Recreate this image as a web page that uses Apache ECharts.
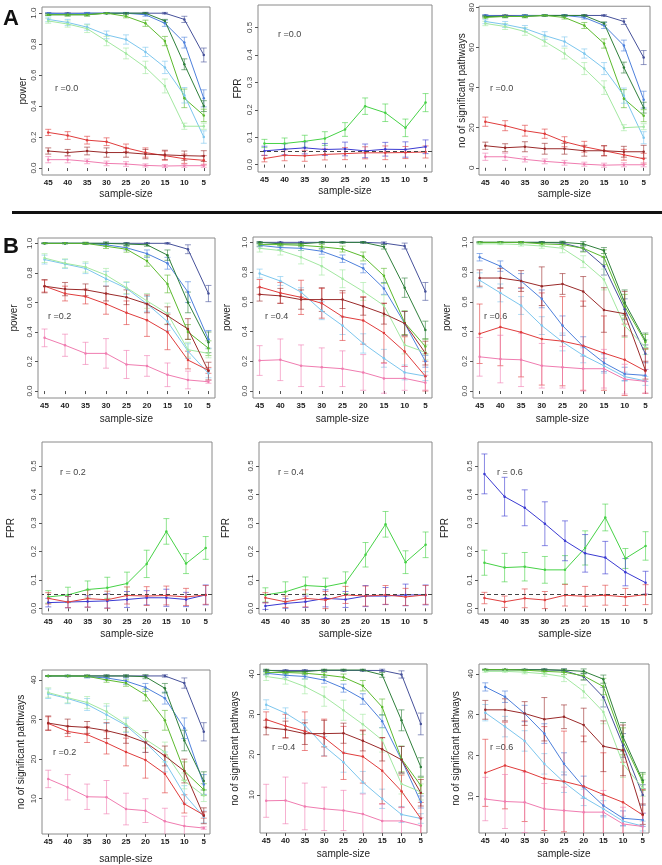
<!DOCTYPE html>
<html><head><meta charset="utf-8">
<script src="https://cdn.jsdelivr.net/npm/echarts@6/dist/echarts.min.js"></script>
<style>html,body{margin:0;padding:0;background:#fff}#c{width:662px;height:865px}</style>
</head><body><div id="c"></div>
<script>
// ---------- shared axes / labels ----------
const sampleSizes = [45,40,35,30,25,20,15,10,5];
const xTickLabels = ['45','40','35','30','25','20','15','10','5'];
const methodNames = ['navy','blue','darkgreen','green','lightblue','palegreen','red','darkred','pink'];
const fprNames = ['green','blue','red'];
const powerTicks = [0,0.2,0.4,0.6,0.8,1.0];
const powerTickLabels = ['0.0','0.2','0.4','0.6','0.8','1.0'];
const fprTicks = [0,0.1,0.2,0.3,0.4,0.5];
const fprTickLabels = ['0.0','0.1','0.2','0.3','0.4','0.5'];
const pathTicksA = [0,20,40,60,80];
const pathTickLabelsA = ['0','20','40','60','80'];
const pathTicksB = [10,20,30,40];
const pathTickLabelsB = ['10','20','30','40'];
const fprLevel = 0.05;
const rLabels = ['r =0.0','r =0.0','r =0.0','r =0.2','r =0.4','r =0.6','r = 0.2','r = 0.4','r = 0.6','r =0.2','r =0.4','r =0.6'];

// ---------- A: r = 0.0 ----------
const A_power = [
 [1.0,1.0,1.0,1.0,1.0,1.0,1.0,0.96,0.73],
 [1.0,0.995,1.0,1.0,1.0,0.99,0.935,0.81,0.45],
 [0.99,0.99,0.99,1.0,1.0,1.0,0.95,0.67,0.40],
 [0.99,0.99,0.99,1.0,0.98,0.935,0.82,0.45,0.34],
 [0.96,0.94,0.91,0.86,0.83,0.75,0.65,0.47,0.20],
 [0.95,0.93,0.90,0.82,0.74,0.65,0.53,0.27,0.27],
 [0.23,0.21,0.18,0.17,0.13,0.10,0.08,0.06,0.05],
 [0.11,0.10,0.11,0.10,0.10,0.09,0.085,0.08,0.077],
 [0.054,0.054,0.043,0.03,0.026,0.017,0.013,0.015,0.015]
];
const A_power_err = [
 [0.003,0.003,0.003,0.003,0.003,0.005,0.005,0.02,0.045],
 [0.003,0.005,0.005,0.003,0.005,0.01,0.02,0.035,0.055],
 [0.005,0.008,0.008,0.003,0.003,0.005,0.01,0.035,0.035],
 [0.005,0.008,0.008,0.003,0.01,0.02,0.03,0.06,0.04],
 [0.015,0.02,0.02,0.025,0.03,0.03,0.04,0.05,0.04],
 [0.015,0.02,0.025,0.03,0.035,0.04,0.045,0.02,0.02],
 [0.02,0.025,0.025,0.025,0.025,0.03,0.03,0.03,0.03],
 [0.02,0.02,0.025,0.03,0.03,0.03,0.03,0.03,0.035],
 [0.02,0.02,0.015,0.015,0.015,0.01,0.01,0.01,0.01]
];
const A_fpr = [
 [0.077,0.077,0.085,0.095,0.128,0.213,0.189,0.134,0.226],
 [0.05,0.056,0.061,0.055,0.057,0.05,0.056,0.055,0.065],
 [0.022,0.034,0.032,0.037,0.04,0.043,0.043,0.044,0.046]
];
const A_fpr_err = [
 [0.015,0.02,0.022,0.025,0.025,0.03,0.032,0.032,0.033],
 [0.017,0.02,0.022,0.022,0.025,0.025,0.025,0.028,0.025],
 [0.012,0.02,0.02,0.02,0.022,0.022,0.025,0.022,0.022]
];
const A_path = [
 [76,76,76,76,76,76,76,73,55],
 [76,75.5,76,76,76,75,71,61,34],
 [75.5,75.5,75.5,76,76,76,72,50,30],
 [75,75.5,75.5,76,75,71,62,34.5,26],
 [73,71.5,69.5,66,63,57,49.5,36,15],
 [72,70.5,68,63,57,49.5,40,20,20.5],
 [23,21,18.5,17,13,10.5,8.5,6.5,4.5],
 [11,10,10.5,9.5,9.5,8.5,8.5,8,8],
 [5.5,5.5,4.2,3.2,2.5,1.8,1.3,1.5,1.5]
];
const A_path_err = [
 [0.3,0.3,0.3,0.3,0.3,0.4,0.4,1.5,3.5],
 [0.3,0.4,0.4,0.3,0.4,0.8,1.5,2.7,4.2],
 [0.4,0.6,0.6,0.3,0.3,0.4,0.8,2.7,2.7],
 [0.4,0.6,0.6,0.3,0.8,1.5,2.3,4.5,3],
 [1.1,1.5,1.5,1.9,2.3,2.3,3,3.8,3],
 [1.1,1.5,1.9,2.3,2.7,3,3.4,1.5,1.5],
 [2.3,2.5,2.7,2.3,2.5,2.7,2.5,2.7,2.7],
 [1.8,2,2.5,2.7,2.7,2.7,2.5,2.7,3.2],
 [1.8,1.8,1.3,1.2,1.2,1,1,1,1]
];

// ---------- B: power ----------
const B_power02 = [
 [1,1,1,1,1,1,1,0.96,0.66],
 [1,1,1,0.99,0.97,0.93,0.865,0.67,0.35],
 [1,1,1,1,0.995,0.99,0.92,0.60,0.33],
 [1,1,1,0.98,0.96,0.88,0.725,0.40,0.29],
 [0.89,0.86,0.83,0.76,0.695,0.59,0.47,0.27,0.12],
 [0.90,0.865,0.84,0.785,0.70,0.61,0.525,0.28,0.255],
 [0.71,0.66,0.64,0.59,0.53,0.48,0.40,0.21,0.14],
 [0.71,0.69,0.685,0.66,0.635,0.59,0.51,0.42,0.135],
 [0.36,0.31,0.255,0.255,0.18,0.17,0.11,0.075,0.063]
];
const B_power02_err = [
 [0.002,0.002,0.003,0.003,0.003,0.003,0.005,0.03,0.055],
 [0.002,0.003,0.005,0.01,0.015,0.025,0.04,0.07,0.06],
 [0.002,0.002,0.005,0.01,0.01,0.01,0.035,0.07,0.07],
 [0.002,0.003,0.008,0.015,0.02,0.035,0.06,0.05,0.05],
 [0.03,0.03,0.035,0.05,0.04,0.05,0.06,0.05,0.03],
 [0.03,0.03,0.035,0.045,0.04,0.05,0.07,0.05,0.03],
 [0.04,0.05,0.05,0.07,0.08,0.11,0.12,0.06,0.02],
 [0.045,0.045,0.04,0.05,0.05,0.06,0.06,0.07,0.06],
 [0.06,0.075,0.075,0.1,0.095,0.07,0.08,0.06,0.01]
];
const B_power04 = [
 [1,1,1,1,1,1,0.995,0.975,0.67],
 [0.98,0.965,0.96,0.94,0.89,0.825,0.69,0.455,0.20],
 [1,0.99,0.99,1,1,1,0.97,0.695,0.41],
 [0.985,0.985,0.98,0.97,0.955,0.905,0.775,0.46,0.30],
 [0.79,0.74,0.665,0.54,0.44,0.32,0.22,0.125,0.10],
 [0.96,0.945,0.90,0.84,0.755,0.67,0.575,0.31,0.26],
 [0.70,0.66,0.63,0.59,0.50,0.475,0.39,0.265,0.10],
 [0.65,0.64,0.615,0.615,0.615,0.57,0.52,0.455,0.255],
 [0.205,0.21,0.17,0.16,0.15,0.125,0.085,0.085,0.056]
];
const B_power04_err = [
 [0.003,0.003,0.003,0.003,0.003,0.005,0.008,0.02,0.06],
 [0.01,0.015,0.015,0.02,0.025,0.03,0.04,0.08,0.04],
 [0.005,0.008,0.008,0.005,0.005,0.005,0.015,0.065,0.06],
 [0.01,0.01,0.01,0.015,0.02,0.03,0.05,0.08,0.05],
 [0.03,0.03,0.03,0.06,0.06,0.065,0.06,0.05,0.03],
 [0.025,0.03,0.045,0.06,0.06,0.06,0.07,0.06,0.05],
 [0.05,0.07,0.115,0.1,0.16,0.16,0.2,0.1,0.1],
 [0.045,0.05,0.065,0.08,0.06,0.06,0.07,0.08,0.08],
 [0.1,0.14,0.14,0.13,0.12,0.12,0.1,0.08,0.05]
];
const B_power06 = [
 [1,1,1,1,0.995,0.96,0.84,0.55,0.25],
 [0.90,0.84,0.74,0.62,0.44,0.30,0.19,0.115,0.105],
 [1,1,1,1,1,0.99,0.945,0.595,0.34],
 [1,1,1,0.99,0.985,0.96,0.9,0.57,0.33],
 [0.745,0.66,0.575,0.44,0.33,0.24,0.17,0.097,0.068],
 [0.99,0.99,0.985,0.975,0.96,0.87,0.75,0.44,0.295],
 [0.385,0.43,0.395,0.35,0.335,0.305,0.255,0.21,0.135],
 [0.76,0.76,0.74,0.705,0.72,0.67,0.545,0.52,0.14],
 [0.23,0.215,0.21,0.17,0.16,0.15,0.15,0.08,0.065]
];
const B_power06_err = [
 [0.003,0.003,0.003,0.005,0.01,0.02,0.06,0.07,0.06],
 [0.025,0.035,0.05,0.06,0.065,0.065,0.06,0.045,0.04],
 [0.003,0.003,0.003,0.005,0.008,0.015,0.02,0.085,0.05],
 [0.003,0.003,0.005,0.01,0.015,0.025,0.05,0.08,0.05],
 [0.05,0.06,0.06,0.06,0.06,0.05,0.05,0.03,0.03],
 [0.005,0.005,0.01,0.015,0.03,0.04,0.07,0.08,0.05],
 [0.2,0.26,0.3,0.31,0.3,0.3,0.25,0.24,0.15],
 [0.055,0.065,0.07,0.13,0.07,0.1,0.15,0.15,0.06],
 [0.13,0.16,0.18,0.15,0.14,0.15,0.13,0.1,0.08]
];

// ---------- B: FPR ----------
const B_fpr02 = [
 [0.04,0.047,0.066,0.072,0.087,0.156,0.27,0.157,0.212],
 [0.02,0.022,0.024,0.026,0.031,0.037,0.037,0.031,0.047],
 [0.035,0.022,0.034,0.03,0.045,0.043,0.045,0.04,0.047]
];
const B_fpr02_err = [
 [0.022,0.027,0.03,0.037,0.04,0.048,0.045,0.035,0.04],
 [0.015,0.02,0.02,0.025,0.028,0.025,0.03,0.025,0.035],
 [0.02,0.02,0.03,0.03,0.03,0.033,0.033,0.03,0.033]
];
const B_fpr04 = [
 [0.047,0.058,0.08,0.076,0.09,0.188,0.295,0.162,0.223],
 [0.008,0.017,0.023,0.035,0.031,0.043,0.043,0.047,0.047],
 [0.037,0.023,0.035,0.029,0.047,0.043,0.047,0.04,0.047]
];
const B_fpr04_err = [
 [0.025,0.035,0.03,0.03,0.038,0.043,0.045,0.04,0.045],
 [0.012,0.017,0.02,0.03,0.028,0.037,0.03,0.038,0.035],
 [0.018,0.02,0.03,0.03,0.03,0.035,0.033,0.03,0.033]
];
const B_fpr06 = [
 [0.16,0.143,0.146,0.135,0.135,0.212,0.319,0.175,0.219],
 [0.472,0.392,0.353,0.297,0.237,0.193,0.178,0.127,0.09],
 [0.036,0.023,0.035,0.029,0.046,0.042,0.046,0.04,0.048]
];
const B_fpr06_err = [
 [0.044,0.05,0.05,0.047,0.05,0.06,0.047,0.035,0.05],
 [0.07,0.068,0.063,0.077,0.07,0.066,0.057,0.048,0.04],
 [0.02,0.02,0.033,0.03,0.038,0.035,0.035,0.03,0.035]
];

// ---------- B: no of significant pathways ----------
const B_path02 = [
 [41,41,41,41,41,41,41,39.2,26.9],
 [41,41,40.8,40.5,39.7,38.1,35.4,27.8,13.6],
 [41,41,41,41,41,40.8,37.9,24.7,14.5],
 [41,41,40.9,40,39.2,36.2,29.8,17,12.3],
 [36.5,35.3,33.8,31.2,28.5,24.2,19.3,11.1,5.4],
 [36.8,35.5,34.3,32,28.8,25,21.8,14.5,10.8],
 [29,27,26.2,24.1,21.8,19.8,16.3,8.7,5.9],
 [29.1,28.3,28,27.2,26,24.2,20.8,17,5.7],
 [15,12.9,10.5,10.4,7.4,7,4.3,3.1,2.6]
];
const B_path02_err = [
 [0.1,0.1,0.2,0.2,0.2,0.2,0.3,1.3,2.3],
 [0.1,0.2,0.3,0.5,0.8,1,1.5,2.6,2.5],
 [0.1,0.1,0.2,0.3,0.3,0.5,1.2,2.6,2.3],
 [0.1,0.2,0.3,0.6,0.8,1.5,2.5,2.3,1.5],
 [1.2,1.3,1.5,2.2,1.8,2.5,2.5,2.2,1.5],
 [1.2,1.3,1.5,2,1.8,2.2,2.5,2,1.5],
 [1.7,1.3,2,2.8,3.5,4.6,4.8,2.3,0.8],
 [1.8,1.8,1.5,2,2,2.5,2.5,3,2],
 [2.2,3.2,3.2,4.2,4,3,3.3,2.5,0.3]
];
const B_path04 = [
 [40.9,40.9,40.9,40.9,40.9,40.9,40.9,39.9,27.6],
 [40.2,39.7,39.4,38.5,36.5,33.8,28.3,18.7,8.2],
 [41,40.6,40.6,41,41,41,39.8,28.5,16.9],
 [40.4,40.4,40.2,39.8,39.2,37.1,31.8,18.9,12.3],
 [32.4,30.3,27.3,22.1,18.1,13.1,9,5.1,4.1],
 [39.4,38.7,36.9,34.4,31,27.5,23.6,12.7,10.7],
 [28.7,27.1,25.8,24.2,20.4,19.5,16,10.9,4.1],
 [26.7,26.2,25.2,25.2,25.3,23.4,21.3,18.7,10.5],
 [8.5,8.6,7.1,6.5,6.1,5.2,3.5,3.5,2.3]
];
const B_path04_err = [
 [0.2,0.2,0.2,0.2,0.2,0.2,0.3,0.9,2.7],
 [0.4,0.5,0.6,0.8,1,1.3,1.6,3.3,1.5],
 [0.2,0.3,0.3,0.2,0.2,0.2,0.6,2.6,2.3],
 [0.4,0.4,0.4,0.6,0.8,1.3,2,3.2,2],
 [1.2,1.3,1.3,2.4,2.5,2.7,2.4,2,1.2],
 [1,1.2,1.8,2.4,2.5,2.5,3,2.5,2],
 [1.9,2.9,4.8,4.6,6.6,6.6,8.2,4,4],
 [1.8,2.1,2.7,3.3,2.5,2.5,2.9,3.3,3.3],
 [4.1,5.8,5.8,5.4,5,5,4.1,3.3,2]
];
const B_path06 = [
 [41,41,41,41,40.8,39.3,34.3,22.5,10.4],
 [36.8,34.4,30.3,25.4,18,12.3,7.8,4.7,4.3],
 [41,41,41,41,40.9,40.6,38.7,24.6,13.9],
 [41,41,40.9,40.6,40.4,39.5,36.9,23.5,13.5],
 [30.5,27.1,23.6,18,13.5,9.8,7,4,2.8],
 [40.6,40.6,40.4,40,39.3,35.7,30.7,18,12.1],
 [15.8,17.6,16.2,14.4,13.7,12.5,10.5,8.6,5.5],
 [31.2,31.2,30.3,28.9,29.5,27.5,22.3,21.3,5.7],
 [9.4,8.8,8.6,7,6.6,6.2,6.2,3.3,2.7]
];
const B_path06_err = [
 [0.1,0.1,0.1,0.2,0.4,0.8,2.4,2.9,2.5],
 [1,1.4,2,2.4,2.7,2.7,2.5,1.8,1.6],
 [0.1,0.1,0.1,0.2,0.3,0.6,1,3.5,2],
 [0.1,0.1,0.2,0.4,0.6,1,2,3.3,2],
 [2,2.5,2.5,2.5,2.5,2,2,1.2,1.2],
 [0.2,0.2,0.4,0.6,1.2,1.6,2.9,3.3,2],
 [8.2,10.6,12.3,12.7,12.3,12.3,10.2,9.8,6.2],
 [2.3,2.7,2.9,5.3,2.9,4.1,6.2,6.2,2.5],
 [5.3,6.6,7.4,6.2,5.7,6.2,5.3,4.1,3.3]
];

// ---------- styles ----------
const methodColors = {navy:'#46519a', blue:'#4d80dc', darkgreen:'#2f7f3b', green:'#5cba2e', lightblue:'#7cc6ee', palegreen:'#a2e8a0', red:'#e03c3c', darkred:'#9a2a2a', pink:'#f07cb0'};
const fprColors = {green:'#46d246', blue:'#3a3ad2', red:'#e04040'};
const FONT = 'Liberation Sans, Arial, sans-serif';

// panel layout
const panels = [
 {box:[42,7,168,168], y:[-0.045,1.04], ticks:powerTicks, tl:powerTickLabels, name:'power', gap:8, lm:4, r:[55,84], kind:'m', mean:A_power, err:A_power_err, xgap:6},
 {box:[258,5,174,167], y:[-0.027,0.582], ticks:fprTicks, tl:fprTickLabels, name:'FPR', gap:9, lm:4, r:[278,30], kind:'f', mean:A_fpr, err:A_fpr_err, xgap:6},
 {box:[479,6,171,169], y:[-3.6,80.6], ticks:pathTicksA, tl:pathTickLabelsA, name:'no of significant pathways', gap:5, lm:3, r:[490,84], kind:'m', mean:A_path, err:A_path_err, xgap:6},
 {box:[38,238,177,160], y:[-0.047,1.036], ticks:powerTicks, tl:powerTickLabels, name:'power', gap:13, lm:4, r:[48,312], kind:'m', mean:B_power02, err:B_power02_err, xgap:8},
 {box:[253,237,179,161], y:[-0.047,1.036], ticks:powerTicks, tl:powerTickLabels, name:'power', gap:15, lm:4, r:[265,312], kind:'m', mean:B_power04, err:B_power04_err, xgap:8},
 {box:[473,237,179,161], y:[-0.047,1.036], ticks:powerTicks, tl:powerTickLabels, name:'power', gap:15, lm:4, r:[484,312], kind:'m', mean:B_power06, err:B_power06_err, xgap:8},
 {box:[42,442,170,172], y:[-0.02,0.584], ticks:fprTicks, tl:fprTickLabels, name:'FPR', gap:20, lm:4, r:[60,468], kind:'f', mean:B_fpr02, err:B_fpr02_err, xgap:7},
 {box:[259,442,173,172], y:[-0.02,0.584], ticks:fprTicks, tl:fprTickLabels, name:'FPR', gap:22, lm:4, r:[278,468], kind:'f', mean:B_fpr04, err:B_fpr04_err, xgap:7},
 {box:[478,442,174,172], y:[-0.02,0.584], ticks:fprTicks, tl:fprTickLabels, name:'FPR', gap:22, lm:4, r:[497,468], kind:'f', mean:B_fpr06, err:B_fpr06_err, xgap:7},
 {box:[42,670,168,167], y:[1.1,42.5], ticks:pathTicksB, tl:pathTickLabelsB, name:'no of significant pathways', gap:10, lm:4, r:[53,748], kind:'m', mean:B_path02, err:B_path02_err, xgap:12},
 {box:[260,664,167,169], y:[0.5,42.5], ticks:pathTicksB, tl:pathTickLabelsB, name:'no of significant pathways', gap:14, lm:4, r:[272,743], kind:'m', mean:B_path04, err:B_path04_err, xgap:8},
 {box:[479,664,170,169], y:[1.1,42.4], ticks:pathTicksB, tl:pathTickLabelsB, name:'no of significant pathways', gap:12, lm:4, r:[490,743], kind:'m', mean:B_path06, err:B_path06_err, xgap:8}
];

const grids = [], xAxes = [], yAxes = [], series = [], graphics = [];

function errRender(color){
  return function(params, api){
    const x = api.value(0), lo = api.value(1), hi = api.value(2);
    const p1 = api.coord([x, lo]), p2 = api.coord([x, hi]);
    const w = 3;
    const st = {stroke: color, lineWidth: 1, opacity: 0.6};
    return {type:'group', children:[
      {type:'line', shape:{x1:p1[0],y1:p1[1],x2:p2[0],y2:p2[1]}, style:st},
      {type:'line', shape:{x1:p1[0]-w,y1:p1[1],x2:p1[0]+w,y2:p1[1]}, style:st},
      {type:'line', shape:{x1:p2[0]-w,y1:p2[1],x2:p2[0]+w,y2:p2[1]}, style:st}
    ]};
  };
}

panels.forEach((p, i) => {
  grids.push({left:p.box[0], top:p.box[1], width:p.box[2], height:p.box[3], show:true, borderColor:'#8a8a8a', borderWidth:1, backgroundColor:'transparent', containLabel:false});
  xAxes.push({type:'value', gridIndex:i, inverse:true, min:3.4, max:46.6,
    name:'sample-size', nameLocation:'middle', nameGap:p.xgap+8,
    nameTextStyle:{fontSize:10, color:'#222', fontFamily:FONT},
    axisLine:{show:false}, splitLine:{show:false},
    axisTick:{show:true, customValues:sampleSizes, length:3, lineStyle:{color:'#555'}},
    axisLabel:{customValues:sampleSizes, fontSize:8, color:'#222', fontWeight:'bold', margin:4, fontFamily:FONT,
      formatter: v => xTickLabels[sampleSizes.indexOf(v)]}
  });
  yAxes.push({type:'value', gridIndex:i, min:p.y[0], max:p.y[1],
    name:p.name, nameLocation:'middle', nameGap:p.gap+6, nameRotate:90,
    nameTextStyle:{fontSize:10, color:'#222', fontFamily:FONT},
    axisLine:{show:false}, splitLine:{show:false},
    axisTick:{show:true, customValues:p.ticks, length:3, lineStyle:{color:'#555'}},
    axisLabel:{customValues:p.ticks, rotate:90, fontSize:8, color:'#444', margin:p.lm, fontFamily:FONT,
      formatter: v => p.tl[p.ticks.indexOf(v)]}
  });
  const names = p.kind === 'm' ? methodNames : fprNames;
  const cmap = p.kind === 'm' ? methodColors : fprColors;
  names.forEach((nm, k) => {
    const col = cmap[nm];
    series.push({type:'custom', xAxisIndex:i, yAxisIndex:i, renderItem:errRender(col), clip:true, silent:true, z:2,
      data: sampleSizes.map((s, j) => [s, p.mean[k][j] - p.err[k][j], p.mean[k][j] + p.err[k][j]])});
    const ls = {type:'line', xAxisIndex:i, yAxisIndex:i, symbol:'circle', symbolSize:2.5, z:3,
      lineStyle:{color:col, width:1}, itemStyle:{color:col}, silent:true,
      data: sampleSizes.map((s, j) => [s, p.mean[k][j]])};
    if (p.kind === 'f' && k === 0) {
      ls.markLine = {silent:true, symbol:'none', label:{show:false}, lineStyle:{color:'#444', type:[4,3], width:1}, data:[{yAxis:fprLevel}]};
    }
    series.push(ls);
  });
  graphics.push({type:'text', left:p.r[0], top:p.r[1], style:{text:rLabels[i], fontSize:9, fill:'#444', fontFamily:FONT}});
});

graphics.push({type:'text', left:3, top:8, style:{text:'A', fontSize:22, fontWeight:'bold', fill:'#111', fontFamily:FONT}});
graphics.push({type:'text', left:3, top:236, style:{text:'B', fontSize:22, fontWeight:'bold', fill:'#111', fontFamily:FONT}});
graphics.push({type:'rect', shape:{x:12, y:211, width:650, height:3}, style:{fill:'#111'}});

const chart = echarts.init(document.getElementById('c'), null, {renderer:'canvas'});
chart.setOption({animation:false, backgroundColor:'#fff', grid:grids, xAxis:xAxes, yAxis:yAxes, series:series, graphic:graphics});
</script></body></html>
